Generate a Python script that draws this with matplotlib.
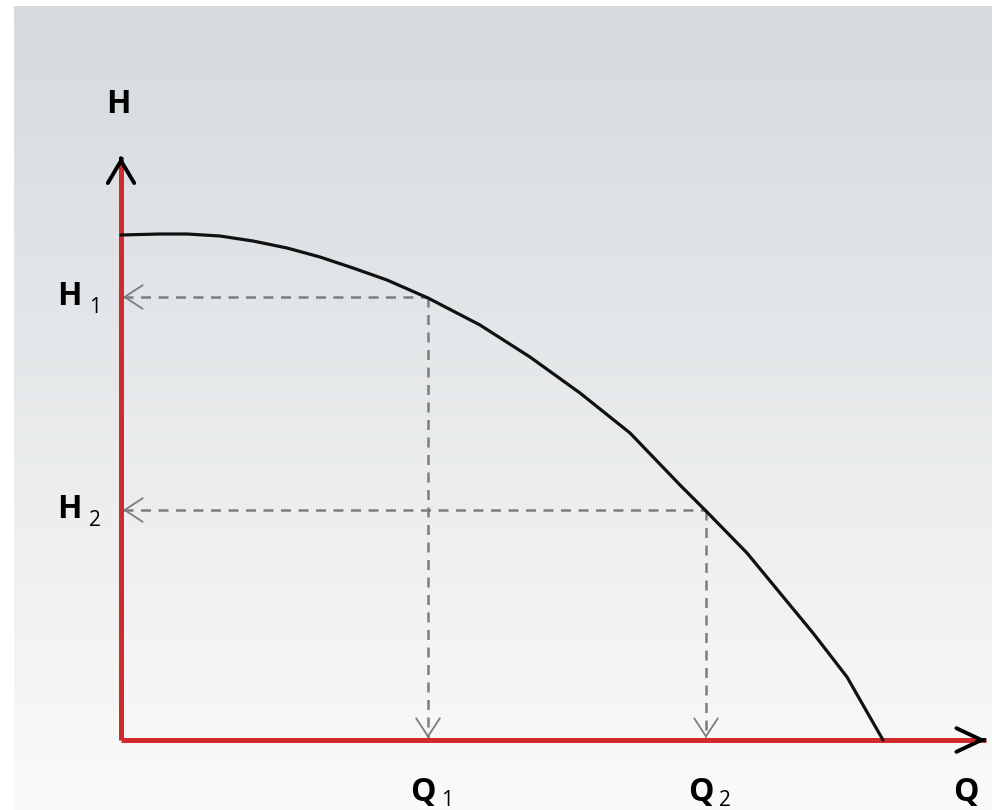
import numpy as np
import matplotlib
matplotlib.use("Agg")
import matplotlib.pyplot as plt

# pump curve H(Q) (arbitrary units)
curve_q = [0.00, 0.39, 0.66, 0.99, 1.32, 1.66, 1.99, 2.32, 2.66, 3.07, 3.59,
           4.09, 4.59, 5.09, 5.59, 5.84, 6.26, 6.59, 6.92, 7.26, 7.62]
curve_h = [5.05, 5.06, 5.06, 5.04, 4.99, 4.92, 4.83, 4.72, 4.60, 4.42, 4.15,
           3.83, 3.47, 3.07, 2.55, 2.30, 1.87, 1.47, 1.07, 0.63, 0.00]

# operating points
op_q = [3.07, 5.85]
op_h = [4.43, 2.30]
op_sub = ["1", "2"]

q_max = 8.65   # end of Q axis
h_max = 5.83   # end of H axis

W, H = 992, 810
fig = plt.figure(figsize=(W / 100, H / 100), dpi=100, facecolor="white")

# gradient backdrop (leaves a thin white strip on the left and top)
bg = fig.add_axes([14 / W, 0, 1 - 14 / W, 804 / H])
top = np.array([0xd5, 0xda, 0xdd]) / 255
bot = np.array([0xfa, 0xfa, 0xfa]) / 255
t = np.linspace(0, 1, 256)[:, None]
grad = (top * (1 - t) + bot * t)[:, None, :]
bg.imshow(grad, aspect="auto", extent=[0, 1, 0, 1])
bg.set_axis_off()

ax = fig.add_axes([0, 0, 1, 1])
ax.patch.set_alpha(0)
ax.set_xlim(-1.21, 8.71)
ax.set_ylim(-0.70, 7.40)
ax.set_axis_off()

red = "#d02a2e"
grey = "#7d7d7d"

# dashed guide lines with open arrow heads
for q, h in zip(op_q, op_h):
  ax.plot([0.02, q], [h, h], color=grey, lw=1.8, dashes=(4, 3), zorder=2)
  ax.plot([q, q], [h, 0.02], color=grey, lw=1.8, dashes=(4, 3), zorder=2)
  ax.annotate("", xy=(0.02, h), xytext=(0.04, h),
    arrowprops=dict(arrowstyle="->,head_length=1.3,head_width=0.85",
                    color=grey, lw=1.3, mutation_scale=10, shrinkA=0, shrinkB=0))
  ax.annotate("", xy=(q, 0.02), xytext=(q, 0.04),
    arrowprops=dict(arrowstyle="->,head_length=1.3,head_width=0.85",
                    color=grey, lw=1.3, mutation_scale=10, shrinkA=0, shrinkB=0))

# red axes
ax.plot([0, 0], [0, h_max], color=red, lw=3.6, solid_capstyle="butt", zorder=3)
ax.plot([0, q_max], [0, 0], color=red, lw=3.6, solid_capstyle="butt", zorder=3)

# black arrow heads on the axes
ax.annotate("", xy=(0, h_max), xytext=(0, h_max - 0.02),
  arrowprops=dict(arrowstyle="->,head_length=1.6,head_width=0.95",
                  color="black", lw=2.8, mutation_scale=10, shrinkA=0, shrinkB=0), zorder=4)
ax.annotate("", xy=(q_max, 0), xytext=(q_max - 0.02, 0),
  arrowprops=dict(arrowstyle="->,head_length=1.8,head_width=0.85",
                  color="black", lw=2.8, mutation_scale=10, shrinkA=0, shrinkB=0), zorder=4)

# pump curve
ax.plot(curve_q, curve_h, color="#111111", lw=2.3, zorder=5,
        solid_capstyle="round", solid_joinstyle="round")

big = dict(family="Open Sans", fontsize=23, fontweight="bold", color="black", ha="center", va="baseline")
small = dict(family="Open Sans", fontsize=15, color="black", ha="center", va="baseline")

ax.text(-0.03, 6.27, "H", **big)
ax.text(8.45, -0.61, "Q", **big)

for q, h, s in zip(op_q, op_h, op_sub):
  ax.text(-0.52, h - 0.08, "H", **big)
  ax.text(-0.26, h - 0.16, s, **small)
  ax.text(q - 0.05, -0.61, "Q", **big)
  ax.text(q + 0.19, -0.655, s, **small)

fig.savefig("out.png", dpi=100, facecolor="white")
